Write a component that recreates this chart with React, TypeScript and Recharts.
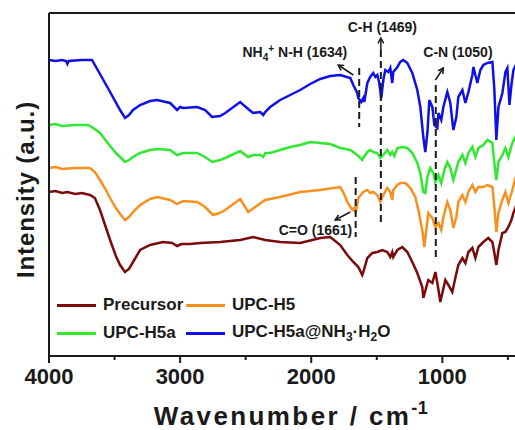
import React from 'react';
import { LineChart, Line, XAxis, YAxis, ReferenceLine, ReferenceDot, Legend } from 'recharts';

// FTIR spectra: [wavenumber (cm-1), intensity (a.u., stacked offsets)]
type Pt = [number, number];

const precursor: Pt[] = [
  [4000, 164], [3950, 165], [3900, 163], [3860, 164], [3800, 162], [3750, 163], [3687, 161], [3650, 158],
  [3611, 146], [3570, 130], [3534, 116], [3490, 100], [3458, 91], [3420, 84], [3390, 87], [3359, 94],
  [3305, 106], [3229, 111], [3130, 114], [3060, 113], [3023, 110], [2990, 112], [2924, 112], [2847, 113],
  [2695, 114], [2542, 116], [2443, 119], [2351, 116], [2237, 114], [2084, 113], [1931, 118], [1855, 119],
  [1779, 111], [1725, 101], [1679, 94], [1641, 89], [1611, 81], [1603, 84], [1572, 98], [1534, 103],
  [1496, 104], [1458, 106], [1420, 104], [1397, 99], [1382, 104], [1374, 99], [1343, 106], [1305, 109],
  [1267, 104], [1229, 94], [1191, 83], [1153, 69], [1145, 58], [1122, 69], [1107, 76], [1076, 73],
  [1053, 84], [1038, 73], [1015, 54], [1000, 63], [977, 76], [954, 71], [924, 64], [901, 78],
  [878, 91], [847, 98], [824, 93], [801, 104], [771, 108], [748, 98], [725, 109], [687, 114],
  [649, 118], [618, 114], [603, 103], [588, 91], [572, 106], [542, 123], [519, 124], [496, 129],
  [473, 136], [458, 143], [443, 148], [400, 165],
];

const upcH5: Pt[] = [
  [4000, 188], [3950, 189], [3900, 187], [3800, 188], [3687, 188], [3650, 184], [3611, 176], [3570, 167],
  [3534, 158], [3490, 148], [3458, 142], [3420, 136], [3390, 139], [3359, 144], [3305, 151], [3229, 157],
  [3176, 159], [3076, 156], [3023, 152], [2977, 155], [2870, 154], [2809, 149], [2748, 141], [2700, 143],
  [2656, 146], [2542, 157], [2481, 144], [2427, 149], [2351, 156], [2237, 159], [2084, 164], [1931, 166],
  [1779, 169], [1756, 164], [1725, 154], [1687, 146], [1672, 148], [1661, 143], [1641, 158], [1603, 164],
  [1572, 166], [1550, 163], [1527, 164], [1496, 161], [1473, 154], [1450, 161], [1420, 168], [1397, 164],
  [1382, 156], [1374, 166], [1343, 171], [1321, 173], [1282, 173], [1244, 168], [1206, 159], [1183, 146],
  [1153, 126], [1137, 109], [1122, 126], [1107, 143], [1076, 138], [1053, 129], [1030, 133], [1008, 126],
  [992, 139], [962, 154], [939, 146], [916, 128], [893, 139], [878, 154], [847, 161], [824, 154],
  [801, 164], [771, 171], [748, 164], [725, 169], [687, 169], [656, 171], [618, 169], [603, 149],
  [588, 124], [572, 143], [542, 156], [519, 164], [496, 153], [466, 166], [443, 178], [400, 193],
];

const upcH5a: Pt[] = [
  [4000, 231], [3950, 232], [3900, 230], [3800, 231], [3702, 231], [3650, 227], [3611, 223], [3570, 216],
  [3534, 210], [3490, 203], [3458, 199], [3420, 194], [3390, 196], [3359, 199], [3305, 203], [3229, 206],
  [3176, 207], [3076, 206], [3023, 201], [2977, 203], [2870, 203], [2809, 199], [2756, 194], [2695, 196],
  [2656, 198], [2542, 205], [2481, 199], [2443, 201], [2389, 201], [2366, 199], [2351, 203], [2313, 203],
  [2237, 206], [2160, 209], [2084, 211], [2008, 214], [1931, 213], [1855, 212], [1779, 208], [1702, 206],
  [1649, 201], [1611, 196], [1603, 198], [1572, 204], [1550, 206], [1527, 204], [1496, 203], [1473, 198],
  [1450, 201], [1420, 206], [1397, 201], [1382, 204], [1366, 200], [1343, 208], [1305, 209], [1267, 208],
  [1229, 203], [1191, 193], [1168, 183], [1145, 164], [1130, 163], [1114, 179], [1092, 188], [1069, 183],
  [1053, 174], [1030, 181], [1008, 173], [985, 186], [962, 194], [939, 188], [916, 176], [901, 183],
  [878, 194], [847, 201], [824, 193], [801, 203], [771, 209], [748, 199], [725, 208], [687, 211],
  [656, 216], [618, 213], [603, 193], [588, 176], [572, 194], [542, 201], [519, 208], [496, 199],
  [466, 213], [443, 219], [400, 229],
];

const upcH5aNH3: Pt[] = [
  [4000, 296], [3950, 295], [3900, 296], [3870, 295], [3860, 292], [3850, 295], [3750, 296], [3672, 296],
  [3611, 282], [3534, 264], [3458, 246], [3420, 238], [3390, 241], [3359, 246], [3305, 251], [3229, 255],
  [3176, 256], [3076, 253], [3023, 246], [3000, 249], [2977, 248], [2870, 249], [2809, 246], [2756, 239],
  [2695, 240], [2656, 243], [2542, 254], [2481, 247], [2443, 243], [2389, 244], [2366, 241], [2351, 244],
  [2313, 249], [2237, 256], [2160, 261], [2084, 266], [2008, 272], [1931, 277], [1855, 280], [1779, 281],
  [1702, 278], [1679, 271], [1649, 263], [1641, 258], [1618, 254], [1603, 258], [1595, 254], [1572, 273],
  [1550, 279], [1527, 283], [1511, 279], [1496, 281], [1481, 273], [1466, 258], [1450, 276], [1435, 286],
  [1412, 284], [1397, 288], [1382, 273], [1374, 284], [1343, 289], [1321, 294], [1298, 296], [1267, 293],
  [1229, 283], [1191, 266], [1168, 249], [1145, 219], [1130, 204], [1114, 223], [1099, 256], [1076, 249],
  [1061, 231], [1038, 228], [1030, 243], [1008, 236], [992, 249], [962, 264], [939, 253], [916, 226],
  [893, 239], [878, 259], [847, 266], [824, 253], [801, 264], [771, 281], [763, 289], [733, 273],
  [710, 286], [687, 291], [656, 293], [618, 294], [603, 266], [588, 216], [572, 249], [542, 263],
  [519, 284], [504, 288], [488, 251], [473, 271], [458, 286], [443, 290], [400, 286],
];

const xTicks = [4000, 3500, 3000, 2500, 2000, 1500, 1000, 500];
const majorTicks = [4000, 3000, 2000, 1000];

// vertical dashed guides: wavenumber, top and bottom intensity
const guides = [
  { wn: 1634, top: 288, bottom: 229 },
  { wn: 1469, top: 306, bottom: 134 },
  { wn: 1050, top: 271, bottom: 99 },
  { wn: 1661, top: 179, bottom: 119 },
];

// arrows pointing from a guide toward its caption
const arrows = [
  { from: { x: 1679, y: 281 }, to: { x: 1794, y: 291 } },
  { from: { x: 1469, y: 306 }, to: { x: 1469, y: 318 } },
  { from: { x: 1053, y: 276 }, to: { x: 992, y: 288 } },
  { from: { x: 1702, y: 144 }, to: { x: 1817, y: 136 } },
];

const captions = [
  { id: 'nh', wn: 1725, y: 299, anchor: 'end' },
  { id: 'ch', wn: 1458, y: 324, anchor: 'middle' },
  { id: 'cn', wn: 1145, y: 299, anchor: 'start' },
  { id: 'co', wn: 1687, y: 121, anchor: 'end' },
];

const series = [
  { key: 'precursor', name: 'Precursor', color: '#7a0a0c', data: precursor },
  { key: 'h5', name: 'UPC-H5', color: '#f7901e', data: upcH5 },
  { key: 'h5a', name: 'UPC-H5a', color: '#2fe82f', data: upcH5a },
  { key: 'h5aNH3', name: 'UPC-H5a@NH3·H2O', color: '#1010e6', data: upcH5aNH3 },
];

const FONT = '"Liberation Sans", Arial, Helvetica, sans-serif';
const INK = '#1a1a1a';

const toRows = (pts: Pt[]) => pts.map(([wn, v]) => ({ wn, v }));

const XTick = (props: any) => {
  const { x, y, payload } = props;
  const major = majorTicks.includes(payload.value);
  return (
    <g>
      <line x1={x} x2={x} y1={y} y2={y + (major ? 7 : 4)} stroke={INK} strokeWidth={2} />
      {major && (
        <text x={x} y={y + 28} textAnchor="middle" fontFamily={FONT} fontWeight="bold" fontSize={22} fill={INK}>
          {payload.value}
        </text>
      )}
    </g>
  );
};

const XTitle = (props: any) => {
  const { viewBox } = props;
  const cx = viewBox.x + viewBox.width / 2 + 6;
  const y = viewBox.y + 69;
  return (
    <text x={cx} y={y} textAnchor="middle" fontFamily={FONT} fontWeight="bold" fontSize={26} letterSpacing={2.4} fill={INK}>
      Wavenumber / cm
      <tspan dy={-11} fontSize={18} letterSpacing={0.5}>-1</tspan>
    </text>
  );
};

const YTitle = (props: any) => {
  const { viewBox } = props;
  const cx = 17;
  const cy = viewBox.y + viewBox.height / 2 + 5;
  return (
    <text
      x={cx}
      y={cy}
      transform={`rotate(-90, ${cx}, ${cy})`}
      textAnchor="middle"
      dominantBaseline="central"
      fontFamily={FONT}
      fontWeight="bold"
      fontSize={24}
      letterSpacing={0.9}
      fill={INK}
    >
      Intensity (a.u.)
    </text>
  );
};

const Arrow = (props: any) => {
  const { x1, y1, x2, y2 } = props;
  const ang = Math.atan2(y2 - y1, x2 - x1);
  const len = 6;
  const spread = 0.5;
  const ax = x2 - len * Math.cos(ang - spread);
  const ay = y2 - len * Math.sin(ang - spread);
  const bx = x2 - len * Math.cos(ang + spread);
  const by = y2 - len * Math.sin(ang + spread);
  return (
    <g>
      <line x1={x1} y1={y1} x2={x2} y2={y2} stroke={INK} strokeWidth={1.5} />
      <polyline points={`${ax},${ay} ${x2},${y2} ${bx},${by}`} fill="none" stroke={INK} strokeWidth={1.5} />
    </g>
  );
};

const captionText = (id: string) => {
  switch (id) {
    case 'nh':
      return (
        <>
          NH
          <tspan dy={4} fontSize={10}>4</tspan>
          <tspan dy={-9} fontSize={10}>+</tspan>
          <tspan dy={5}> N-H (1634)</tspan>
        </>
      );
    case 'ch':
      return 'C-H (1469)';
    case 'cn':
      return 'C-N (1050)';
    default:
      return 'C=O (1661)';
  }
};

const makeCaption = (id: string, anchor: string) => (props: any) => (
  <text x={props.cx} y={props.cy} textAnchor={anchor} fontFamily={FONT} fontWeight="bold" fontSize={14} fill={INK}>
    {captionText(id)}
  </text>
);

const legendLabel = (name: string) =>
  name === 'UPC-H5a@NH3·H2O' ? (
    <span>
      UPC-H5a@NH<sub style={{ fontSize: 12 }}>3</sub>·H<sub style={{ fontSize: 12 }}>2</sub>O
    </span>
  ) : (
    <span>{name}</span>
  );

const LegendBox = () => {
  const cells = [
    { s: series[0], row: 0, col: 0 },
    { s: series[1], row: 0, col: 1 },
    { s: series[2], row: 1, col: 0 },
    { s: series[3], row: 1, col: 1 },
  ];
  return (
    <div style={{ position: 'relative', width: 340, height: 56, fontFamily: FONT, fontWeight: 'bold', fontSize: 17, color: INK }}>
      {cells.map(({ s, row, col }) => (
        <div
          key={s.key}
          style={{
            position: 'absolute',
            left: col === 0 ? 0 : 129,
            top: row * 28,
            height: 28,
            display: 'flex',
            alignItems: 'center',
            whiteSpace: 'nowrap',
          }}
        >
          <div style={{ width: 39, height: 3, background: s.color, marginRight: 7 }} />
          {legendLabel(s.name)}
        </div>
      ))}
    </div>
  );
};

export default function App() {
  return (
    <div style={{ position: 'absolute', left: 8, top: 8, width: 507, height: 422, overflow: 'hidden' }}>
      <LineChart width={540} height={422} margin={{ top: 5, right: 27, bottom: 14, left: 0 }}>
        <XAxis
          dataKey="wn"
          type="number"
          domain={[400, 4000]}
          reversed
          allowDataOverflow
          ticks={xTicks}
          interval={0}
          tick={<XTick />}
          tickLine={false}
          tickSize={0}
          tickMargin={0}
          height={60}
          axisLine={{ stroke: INK, strokeWidth: 2 }}
          label={<XTitle />}
        />
        <YAxis
          type="number"
          domain={[0, 343]}
          allowDataOverflow
          tick={false}
          tickLine={false}
          width={41}
          axisLine={{ stroke: INK, strokeWidth: 2 }}
          label={<YTitle />}
        />
        <ReferenceLine y={343} stroke={INK} strokeWidth={2} />
        {series.map((s) => (
          <Line
            key={s.key}
            data={toRows(s.data)}
            dataKey="v"
            name={s.name}
            type="linear"
            stroke={s.color}
            strokeWidth={2.5}
            dot={false}
            activeDot={false}
            isAnimationActive={false}
          />
        ))}
        {guides.map((g) => (
          <ReferenceLine
            key={`g${g.wn}`}
            segment={[{ x: g.wn, y: g.top }, { x: g.wn, y: g.bottom }]}
            stroke={INK}
            strokeWidth={2}
            strokeDasharray="7 4"
          />
        ))}
        {arrows.map((a, i) => (
          <ReferenceLine key={`a${i}`} segment={[a.from, a.to]} shape={Arrow} />
        ))}
        {captions.map((c) => (
          <ReferenceDot key={c.id} x={c.wn} y={c.y} r={0} shape={makeCaption(c.id, c.anchor)} />
        ))}
        <Legend
          layout="horizontal"
          verticalAlign="middle"
          align="center"
          content={<LegendBox />}
          wrapperStyle={{ left: 49, top: 283, width: 340, height: 56 }}
        />
      </LineChart>
    </div>
  );
}
